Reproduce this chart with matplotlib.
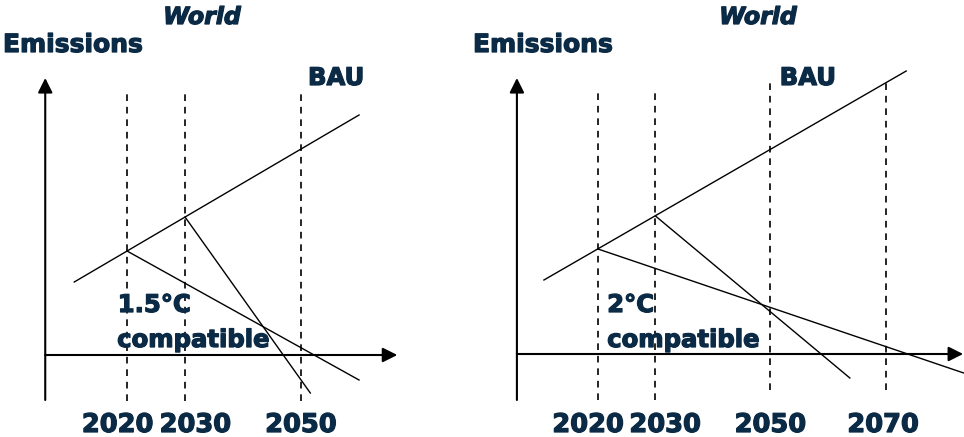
import matplotlib
matplotlib.use('Agg')
import matplotlib.pyplot as plt
import matplotlib.patheffects as pe

plt.rcParams['font.family'] = 'DejaVu Sans'

text_color = '#0B2A45'
heavy = [pe.withStroke(linewidth=0.9, foreground=text_color)]

# ---- left panel (1.5°C) ----
years_left = [2020, 2030, 2050]
year_label_x_left = [2018.4, 2031.8, 2050.0]
bau_left_x = [2010.9, 2060.0]
bau_left_y = [7.3, 24.0]
path15_a_x = [2020, 2060.0]
path15_a_y = [10.4, -2.5]
path15_b_x = [2030, 2051.6]
path15_b_y = [13.8, -3.8]

# ---- right panel (2°C) ----
years_right = [2020, 2030, 2050, 2070]
year_label_x_right = [2018.3, 2031.7, 2050.0, 2069.6]
bau_right_x = [2010.6, 2073.6]
bau_right_y = [7.4, 28.3]
path2_a_x = [2020, 2083.6]
path2_a_y = [10.5, -1.9]
path2_b_x = [2030, 2063.8]
path2_b_y = [13.8, -2.4]

fig = plt.figure(figsize=(9.64, 4.37), dpi=100, facecolor='white')

# axes cover each half of the figure; limits set so that year/emission units map onto the layout
ax1 = fig.add_axes([0, 0, 0.5, 1])
ax1.set_xlim(1998.1, 2081.2)
ax1.set_ylim(-8.2, 35.5)
ax2 = fig.add_axes([0.5, 0, 0.5, 1])
ax2.set_xlim(1999.83, 2083.65)
ax2.set_ylim(-8.3, 35.4)


def draw_axes(ax, x0, x_tip, y_bottom, y_tip):
    arrow = dict(arrowstyle='-|>', mutation_scale=22, lw=1.5, color='black',
                 shrinkA=0, shrinkB=0)
    ax.annotate('', xy=(x_tip, 0), xytext=(x0, 0), arrowprops=arrow)
    ax.annotate('', xy=(x0, y_tip), xytext=(x0, y_bottom), arrowprops=arrow)


def draw_dashed(ax, x, y0, y1):
    ax.plot([x, x], [y0, y1], color='black', lw=1.2, linestyle=(0, (4, 3.5)))


def label(ax, x, y, s, size, ha='left'):
    ax.text(x, y, s, ha=ha, va='center', fontsize=size, fontweight='bold',
            color=text_color, path_effects=heavy)


# left panel
draw_axes(ax1, 2005.9, 2066.6, -4.5, 27.7)
for yr, lx in zip(years_left, year_label_x_left):
    draw_dashed(ax1, yr, -4.6, 26.6)
    label(ax1, lx, -7.0, str(yr), 18.5, ha='center')
for xs, ys in [(bau_left_x, bau_left_y), (path15_a_x, path15_a_y), (path15_b_x, path15_b_y)]:
    ax1.plot(xs, ys, color='black', lw=1.0)
label(ax1, 2051.2, 27.7, 'BAU', 17.5)
label(ax1, 2018.4, 5.0, '1.5°C', 17.5)
label(ax1, 2018.3, 1.5, 'compatible', 17.5)

# right panel
draw_axes(ax2, 2005.9, 2083.5, -4.6, 27.6)
for yr, lx in zip(years_right, year_label_x_right):
    if yr < 2050:
        draw_dashed(ax2, yr, -4.6, 26.6)
    else:
        draw_dashed(ax2, yr, -3.6, 27.6)
    label(ax2, lx, -7.1, str(yr), 18.5, ha='center')
for xs, ys in [(bau_right_x, bau_right_y), (path2_a_x, path2_a_y), (path2_b_x, path2_b_y)]:
    ax2.plot(xs, ys, color='black', lw=1.0)
label(ax2, 2051.6, 27.6, 'BAU', 17.5)
label(ax2, 2021.6, 4.9, '2°C', 17.5)
label(ax2, 2021.6, 1.4, 'compatible', 17.5)

for ax in (ax1, ax2):
    ax.axis('off')

# titles
for cx, ex in [(202, 3), (758, 473)]:
    fig.text(cx / 964, 1 - 17 / 437, 'World', ha='center', va='center', fontsize=17,
             fontweight='bold', fontstyle='italic', color=text_color, path_effects=heavy)
    fig.text(ex / 964, 1 - 45 / 437, 'Emissions', ha='left', va='center', fontsize=18,
             fontweight='bold', color=text_color, path_effects=heavy)

fig.savefig('out.png', dpi=100, facecolor='white')
